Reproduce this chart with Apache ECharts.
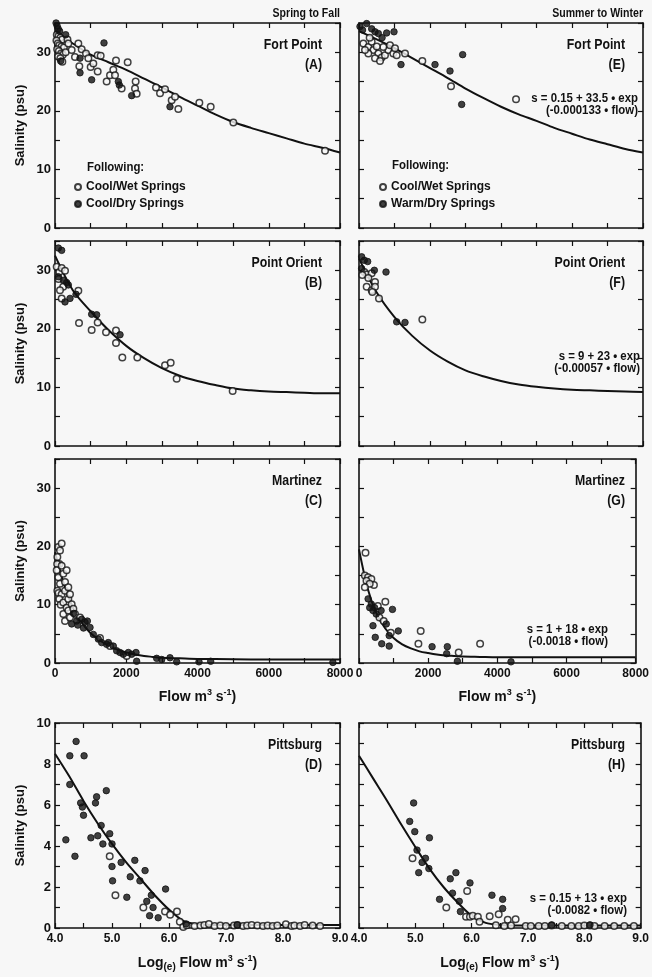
<!DOCTYPE html>
<html>
<head>
<meta charset="utf-8">
<script src="https://cdn.jsdelivr.net/npm/echarts@6/dist/echarts.min.js"></script>
<style>
html, body { margin: 0; padding: 0; background: #f7f7f7; }
#chart { width: 652px; height: 977px; }
</style>
</head>
<body>
<div id="chart"></div>
<script>
// ---- data: [flow, salinity] or [log flow, salinity] ----
const fortSpringWet = [[50,33],[100,32.8],[150,32.5],[200,32.2],[40,32],[80,31.5],[120,31.2],[180,31],[250,30.8],[60,30.5],[110,30.2],[170,29.8],[220,29.6],[90,29.3],[150,29],[350,32.2],[300,30],[206,28.4],[374,31.5],[468,30.4],[561,29.2],[655,31.5],[749,30.5],[870,29.8],[936,29],[683,27.6],[1001,27.5],[1076,28.1],[1198,29.5],[1282,29.4],[1198,26.7],[1450,25],[1544,26.1],[1637,27],[1712,28.6],[1684,26.1],[1871,23.8],[2040,28.3],[2246,23.8],[2292,22.9],[2264,25],[2835,24],[2948,23],[3088,23.7],[3275,21.8],[3369,22.4],[3462,20.3],[4052,21.4],[4370,20.7],[5006,18],[7580,13.2]];
const fortSpringDry = [[30,35],[60,34.5],[90,34],[130,33.6],[300,33],[160,28.5],[1375,31.6],[702,26.5],[702,29],[1029,25.3],[1778,25],[1806,24.4],[2152,22.6],[3228,20.7]];
const fortSpringFit = [[0,33.5],[500,31.5],[1000,29.6],[1500,28.3],[2000,27],[2500,25.5],[3000,24],[3500,22.4],[4000,20.9],[4500,19.4],[5000,18.1],[5500,17.1],[6000,16.2],[6500,15.3],[7000,14.4],[7500,13.7],[8000,12.9]];

const fortSummerWet = [[122,31.5],[263,30.9],[404,30.4],[545,29.8],[639,29.1],[732,29.5],[826,30.4],[967,29.8],[263,29.8],[451,29],[592,28.5],[169,30.4],[357,31.8],[685,30.9],[873,31.2],[1014,30.7],[1061,29.5],[1296,29.8],[500,31],[300,32.5],[1784,28.5],[2592,24.2],[4423,22]];
const fortSummerDry = [[28,34.4],[100,33.8],[216,34.9],[357,34],[451,33.5],[545,33.2],[650,32.5],[779,33.3],[986,33.5],[1183,27.9],[2141,27.9],[2563,26.8],[2920,29.6],[2892,21.1]];
const fortSummerFit = [[0,33.6],[500,32.2],[1000,30.7],[1500,29],[2000,27.3],[2500,25.6],[3000,23.8],[3500,22.2],[4000,20.7],[4500,19.4],[5000,18.3],[5500,17.1],[6000,16.1],[6500,15.1],[7000,14.3],[7500,13.5],[8000,12.9]];

const orientSpringWet = [[47,30.6],[122,29.7],[187,30.4],[281,29.9],[100,28.5],[230,27.2],[140,26.6],[187,25.2],[655,26.5],[674,21],[1198,21.1],[1029,19.8],[1432,19.4],[1712,19.7],[1712,17.6],[1890,15.1],[2311,15.1],[3088,13.8],[3247,14.2],[3415,11.5],[4987,9.4]];
const orientSpringDry = [[94,33.8],[187,33.4],[94,28.9],[234,28.3],[327,27.9],[374,27.5],[281,24.6],[421,25.2],[590,25.9],[1029,22.5],[1170,22.4],[1825,19]];
const orientSpringFit = [[0,32.5],[500,26.6],[1000,23],[1500,19.8],[2000,17.1],[2500,15],[3000,13.3],[3500,12],[4000,11.1],[4500,10.4],[5000,9.8],[5500,9.5],[6000,9.3],[6500,9.2],[7000,9.1],[7500,9.0],[8000,9.0]];

const orientSummerWet = [[150,29.7],[216,29.3],[357,29.5],[94,29.2],[263,28.7],[451,28],[216,27.2],[357,26.6],[451,27.2],[376,26.3],[563,25.2],[1784,21.6]];
const orientSummerDry = [[75,32.3],[150,31.7],[244,31.5],[75,30.3],[432,30],[761,29.7],[1061,21.2],[1296,21.1]];
const orientSummerFit = [[0,32],[500,26.2],[1000,22],[1500,18.8],[2000,16.3],[2500,14.4],[3000,12.9],[3500,11.9],[4000,11.1],[4500,10.5],[5000,10.1],[5500,9.8],[6000,9.6],[6500,9.5],[7000,9.4],[7500,9.3],[8000,9.2]];

const martinezSpringWet = [[94,19.9],[187,20.5],[140,19.3],[66,18.2],[122,17],[60,17],[47,15.9],[187,16.7],[94,14.7],[234,15.3],[327,15.9],[140,13.6],[281,13.9],[66,12.4],[100,12],[187,11.8],[281,12.4],[374,13],[122,11],[160,10],[234,10.4],[374,11],[421,11.8],[327,9.5],[468,10.1],[234,8.4],[374,9],[515,9.3],[561,8.4],[281,7.2],[421,7.8],[702,7.8],[1263,4.3],[1544,2.9],[2012,1.2]];
const martinezSpringDry = [[468,6.7],[520,8.5],[608,7.2],[640,6.5],[749,7.5],[800,6],[842,7],[908,7.2],[983,6.1],[1076,4.9],[1216,4.1],[1310,3.5],[1450,3.2],[1497,3.5],[1637,2.9],[1731,2.1],[1825,1.8],[1918,1.5],[2059,1.8],[2152,1.5],[2274,1.8],[2292,0.3],[2854,0.8],[2995,0.6],[3228,0.9],[3415,0.2],[4042,0.2],[4370,0.3],[7800,0.1]];
const martinezSpringFit = [[0,19],[250,13.5],[500,9.5],[750,6.9],[1000,5.1],[1250,3.9],[1500,3],[1750,2.3],[2000,1.8],[2250,1.45],[2500,1.2],[2750,1.05],[3000,0.9],[3500,0.8],[4000,0.7],[5000,0.65],[6000,0.6],[7000,0.6],[8000,0.6]];

const martinezSummerWet = [[188,18.9],[169,15],[263,14.7],[357,14.4],[432,13.4],[216,14.1],[310,13.6],[169,13],[545,9.8],[761,10.5],[592,7.8],[714,7.2],[920,5.2],[1784,5.5],[1718,3.3],[2883,1.8],[3502,3.3]];
const martinezSummerDry = [[263,11],[357,10.1],[451,9.5],[639,9],[967,9.2],[404,9],[310,9.5],[498,8.4],[789,6.7],[404,6.4],[873,4.7],[470,4.4],[657,3.3],[873,2.9],[1136,5.5],[2113,2.8],[2554,2.8],[2535,1.6],[2845,0.3],[4395,0.2]];
const martinezSummerFit = [[0,19.5],[250,12.8],[500,8.6],[750,6],[1000,4.3],[1250,3.2],[1500,2.5],[1750,2],[2000,1.7],[2250,1.45],[2500,1.3],[2750,1.2],[3000,1.1],[3500,1.05],[4000,1],[5000,1],[6000,1],[7000,1],[8000,1]];

const pittSpringWet = [[4.96,3.5],[5.06,1.6],[5.55,1],[5.93,0.8],[6.02,0.65],[6.14,0.8],[6.19,0.3],[6.25,0.05],[6.31,0.13],[6.45,0.1],[6.55,0.12],[6.62,0.15],[6.7,0.2],[6.8,0.1],[6.9,0.12],[7.0,0.1],[7.14,0.12],[7.2,0.15],[7.3,0.1],[7.37,0.12],[7.45,0.15],[7.55,0.12],[7.65,0.1],[7.73,0.12],[7.82,0.1],[7.9,0.12],[8.05,0.18],[8.15,0.1],[8.2,0.12],[8.3,0.1],[8.38,0.15],[8.52,0.12],[8.65,0.1]];
const pittSpringDry = [[4.19,4.3],[4.26,7],[4.26,8.4],[4.37,9.1],[4.35,3.5],[4.51,8.4],[4.45,6.1],[4.48,5.9],[4.5,5.5],[4.63,4.4],[4.71,6.1],[4.73,6.4],[4.75,4.5],[4.81,5],[4.84,4.1],[4.9,6.7],[4.96,4.6],[5.0,4.1],[5.0,3],[5.01,2.3],[5.16,3.2],[5.26,1.5],[5.32,2.5],[5.4,3.3],[5.49,2.3],[5.58,2.8],[5.61,1.3],[5.69,1.6],[5.72,1],[5.66,0.6],[5.81,0.5],[5.94,1.9],[6.3,0.2],[7.2,0.15]];
const pittSpringFit = [[4.0,8.5],[4.25,7.4],[4.5,6.2],[4.75,5.1],[5.0,4.1],[5.25,3.2],[5.5,2.4],[5.75,1.6],[6.0,0.9],[6.25,0.35],[6.5,0.18],[6.75,0.15],[7.0,0.15],[7.5,0.15],[8.0,0.15],[8.5,0.15],[9.0,0.15]];

const pittSummerWet = [[4.95,3.4],[5.55,1],[5.92,1.8],[5.9,0.55],[5.97,0.55],[6.02,0.6],[6.11,0.55],[6.14,0.3],[6.32,0.57],[6.48,0.67],[6.64,0.4],[6.78,0.43],[6.43,0.13],[6.58,0.1],[6.7,0.12],[6.96,0.1],[7.05,0.1],[7.19,0.1],[7.3,0.1],[7.42,0.12],[7.6,0.1],[7.77,0.1],[7.9,0.1],[8.0,0.12],[8.1,0.12],[8.18,0.1],[8.36,0.1],[8.53,0.1],[8.71,0.1],[8.88,0.1]];
const pittSummerDry = [[4.97,6.1],[4.9,5.2],[4.99,4.7],[5.03,3.8],[5.12,3.2],[5.18,3.4],[5.06,2.7],[5.25,4.4],[5.24,2.9],[5.43,1.4],[5.62,2.4],[5.66,1.7],[5.72,2.7],[5.78,1.3],[5.8,0.8],[5.97,2.2],[6.36,1.6],[6.55,1.4],[6.55,0.95],[7.42,0.15],[8.1,0.15]];
const pittSummerFit = [[4.0,8.4],[4.25,7.3],[4.5,6.2],[4.75,5.05],[5.0,3.95],[5.25,2.9],[5.5,2.0],[5.75,1.25],[6.0,0.6],[6.25,0.25],[6.5,0.15],[6.75,0.12],[7.0,0.12],[7.5,0.12],[8.0,0.12],[8.5,0.12],[9.0,0.12]];

const stations = ['Fort Point', 'Point Orient', 'Martinez', 'Pittsburg'];
const panelTags = ['(A)', '(B)', '(C)', '(D)', '(E)', '(F)', '(G)', '(H)'];
const seasons = ['Spring to Fall', 'Summer to Winter'];
const wetName = 'Cool/Wet Springs';
const dryNames = ['Cool/Dry Springs', 'Warm/Dry Springs'];
const equations = [
  ['s = 0.15 + 33.5 \u2022 exp', '(-0.000133 \u2022 flow)'],
  ['s = 9 + 23 \u2022 exp', '(-0.00057 \u2022 flow)'],
  ['s = 1 + 18 \u2022 exp', '(-0.0018 \u2022 flow)'],
  ['s = 0.15 + 13 \u2022 exp', '(-0.0082 \u2022 flow)']
];

const FONT = '"Liberation Sans Narrow", "Liberation Sans", Arial, sans-serif';
const INK = '#111';
const BG = '#f7f7f7';

const chart = echarts.init(document.getElementById('chart'));

// layout
const colLeft = [55, 359];
const colWidth = [285, 284];
const rowTop = [23, 241, 459, 723];
const rowHeight = [205, 205, 204, 205];
const eqPos = [[638, 99], [640, 357], [608, 630], [627, 899]];

const panels = [
  [fortSpringWet, fortSpringDry, fortSpringFit],
  [orientSpringWet, orientSpringDry, orientSpringFit],
  [martinezSpringWet, martinezSpringDry, martinezSpringFit],
  [pittSpringWet, pittSpringDry, pittSpringFit],
  [fortSummerWet, fortSummerDry, fortSummerFit],
  [orientSummerWet, orientSummerDry, orientSummerFit],
  [martinezSummerWet, martinezSummerDry, martinezSummerFit],
  [pittSummerWet, pittSummerDry, pittSummerFit]
];

const grid = [], xAxis = [], yAxis = [], series = [], graphic = [];
const lineStyle = { color: INK, width: 1.6 };
const labelStyle = { color: INK, fontFamily: FONT, fontWeight: 'bold', fontSize: 12 };

function label(text, x, y, size, align, sx) {
  return {
    type: 'text', x: x, y: y, scaleX: sx || 0.88,
    style: { text: text, align: align || 'right', verticalAlign: 'middle', fill: INK, font: 'bold ' + size + 'px ' + FONT }
  };
}

panels.forEach((p, i) => {
  const col = i < 4 ? 0 : 1;
  const row = i % 4;
  const isLog = row === 3;
  const left = colLeft[col], top = rowTop[row], w = colWidth[col], h = rowHeight[row];
  grid.push({ left: left, top: top, width: w, height: h, containLabel: false });

  const xr = isLog ? { min: 4, max: 9, interval: 0.5 } : { min: 0, max: 8000, interval: 1000 };
  const yr = isLog ? { min: 0, max: 10, interval: 1 } : { min: 0, max: 35, interval: 5 };
  const showX = row >= 2;
  const xName = row === 2 ? 'Flow m{sup|3} s{sup|-1})' : (row === 3 ? 'Log{sub|(e)} Flow m{sup|3} s{sup|-1})' : '');

  const base = {
    gridIndex: i, type: 'value', splitLine: { show: false },
    axisLine: { show: true, onZero: false, lineStyle: lineStyle },
    axisTick: { show: true, inside: true, length: 5, lineStyle: { color: INK, width: 1.2 } }
  };
  xAxis.push(Object.assign({}, base, xr, {
    position: 'bottom',
    axisLabel: Object.assign({}, labelStyle, {
      show: showX, margin: 5,
      formatter: v => isLog ? (Math.abs(v - Math.round(v)) < 1e-6 ? v.toFixed(1) : '') : (v % 2000 === 0 ? String(v) : '')
    }),
    name: xName, nameLocation: 'middle', nameGap: isLog ? 26 : 25,
    nameTextStyle: Object.assign({}, labelStyle, {
      fontSize: 14, lineHeight: 18,
      rich: {
        sup: { fontFamily: FONT, fontWeight: 'bold', fontSize: 9, color: INK, verticalAlign: 'top', lineHeight: 12 },
        sub: { fontFamily: FONT, fontWeight: 'bold', fontSize: 10, color: INK, verticalAlign: 'bottom', padding: [6, 0, 0, 0] }
      }
    })
  }));
  xAxis.push(Object.assign({}, base, xr, { position: 'top', axisLabel: { show: false } }));
  yAxis.push(Object.assign({}, base, yr, {
    position: 'left',
    axisLabel: Object.assign({}, labelStyle, {
      show: col === 0, margin: 4, fontSize: 13,
      formatter: v => isLog ? (v % 2 === 0 ? String(v) : '') : (v % 10 === 0 && v <= 30 ? String(v) : '')
    }),
    name: col === 0 ? 'Salinity (psu)' : '', nameLocation: 'middle', nameGap: 28,
    nameTextStyle: Object.assign({}, labelStyle, { fontSize: 13 })
  }));
  yAxis.push(Object.assign({}, base, yr, { position: 'right', axisLabel: { show: false } }));

  const ax = { xAxisIndex: 2 * i, yAxisIndex: 2 * i };
  series.push(Object.assign({
    name: wetName, type: 'scatter', data: p[0], symbol: 'circle', symbolSize: 6.5,
    itemStyle: { color: BG, borderColor: INK, borderWidth: 1.5 }, z: 3
  }, ax));
  series.push(Object.assign({
    name: dryNames[col], type: 'scatter', data: p[1], symbol: 'circle', symbolSize: 6.5,
    itemStyle: { color: INK, borderColor: INK, borderWidth: 1 }, z: 3
  }, ax));
  series.push(Object.assign({
    type: 'line', data: p[2], smooth: 0.3, showSymbol: false,
    lineStyle: { color: INK, width: 2 }, z: 2, silent: true
  }, ax));

  // station label and panel tag
  const rx = left + w - 18;
  graphic.push(label(stations[row], rx, top + 22, 14));
  graphic.push(label(panelTags[i], rx, top + 42, 14));
  if (col === 1) {
    const e = equations[row], pos = eqPos[row];
    graphic.push(label(e[0], pos[0], pos[1], 12, 'right', 0.95));
    graphic.push(label(e[1], pos[0], pos[1] + 12, 12, 'right', 0.95));
  }
});

// season headers and legend captions
graphic.push(label(seasons[0], 340, 14, 12));
graphic.push(label(seasons[1], 643, 14, 12));
graphic.push(label('Following:', 87, 167, 13, 'left'));
graphic.push(label('Following:', 392, 165, 13, 'left'));

const legendBase = {
  orient: 'vertical', icon: 'circle', itemWidth: 6, itemHeight: 6, itemGap: 5,
  selectedMode: false, textStyle: Object.assign({}, labelStyle, { fontSize: 12 }), padding: 0
};

chart.setOption({
  backgroundColor: BG,
  animation: false,
  grid: grid,
  xAxis: xAxis,
  yAxis: yAxis,
  legend: [
    Object.assign({}, legendBase, { data: [wetName, dryNames[0]], left: 74, top: 181 }),
    Object.assign({}, legendBase, { data: [wetName, dryNames[1]], left: 379, top: 181 })
  ],
  graphic: graphic,
  series: series
});

window.addEventListener('resize', () => chart.resize());
</script>
</body>
</html>
